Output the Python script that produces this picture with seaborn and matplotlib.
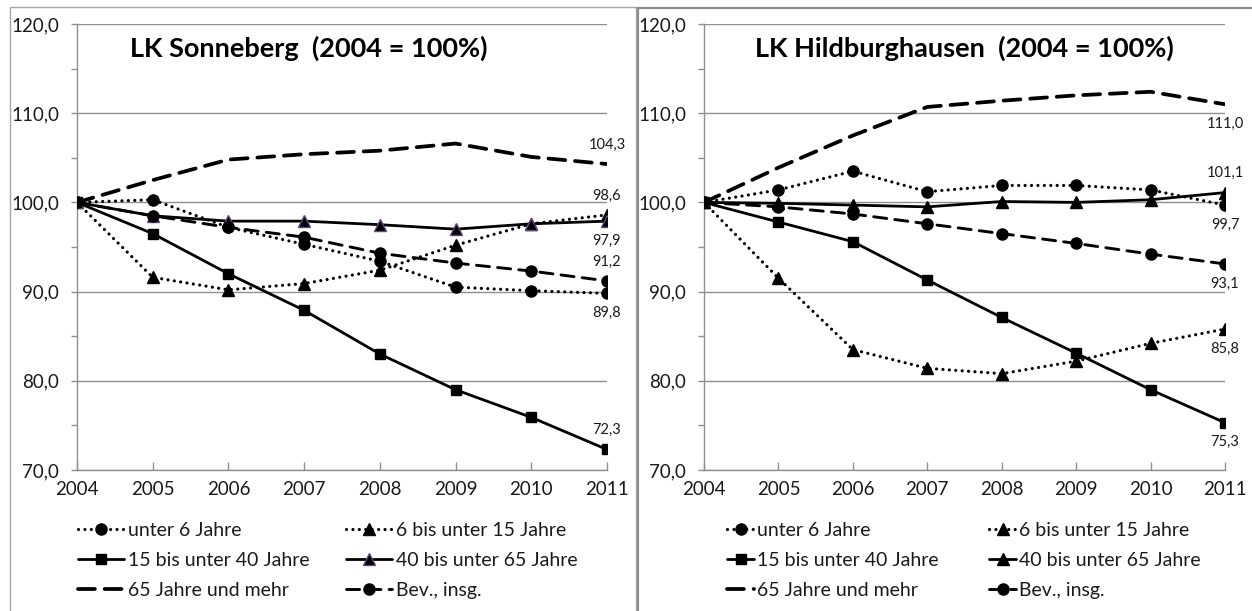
import matplotlib
matplotlib.use("Agg")
import matplotlib.pyplot as plt
import seaborn as sns
import pandas as pd
from matplotlib.patches import Rectangle
from matplotlib.ticker import MultipleLocator, FuncFormatter

# ---------------- data ----------------
years = [2004, 2005, 2006, 2007, 2008, 2009, 2010, 2011]
series_names = ["unter 6 Jahre", "6 bis unter 15 Jahre", "15 bis unter 40 Jahre",
                "40 bis unter 65 Jahre", "65 Jahre und mehr", "Bev., insg."]

son_u6 = [100.0, 100.3, 97.2, 95.3, 93.4, 90.5, 90.1, 89.8]
son_6_15 = [100.0, 91.6, 90.2, 90.9, 92.4, 95.2, 97.6, 98.6]
son_15_40 = [100.0, 96.5, 92.0, 87.9, 83.0, 79.0, 75.9, 72.3]
son_40_65 = [100.0, 98.5, 97.9, 97.9, 97.5, 97.0, 97.6, 97.9]
son_65 = [100.0, 102.5, 104.8, 105.4, 105.8, 106.6, 105.1, 104.3]
son_bev = [100.0, 98.5, 97.2, 96.1, 94.3, 93.2, 92.3, 91.2]

hil_u6 = [100.0, 101.4, 103.5, 101.2, 101.9, 101.9, 101.4, 99.7]
hil_6_15 = [100.0, 91.5, 83.5, 81.4, 80.8, 82.2, 84.2, 85.8]
hil_15_40 = [100.0, 97.8, 95.6, 91.3, 87.1, 83.1, 79.0, 75.3]
hil_40_65 = [100.0, 99.9, 99.7, 99.5, 100.1, 100.0, 100.3, 101.1]
hil_65 = [100.0, 103.9, 107.5, 110.7, 111.4, 112.0, 112.4, 111.0]
hil_bev = [100.0, 99.5, 98.7, 97.6, 96.5, 95.4, 94.2, 93.1]

titles = ["LK Sonneberg  (2004 = 100%)", "LK Hildburghausen  (2004 = 100%)"]
y_ticks = [70, 80, 90, 100, 110, 120]

# ---------------- style ----------------
sns.set_style("white")
plt.rcParams["font.family"] = ["Lato", "DejaVu Sans"]
TXT = "#1a1a1a"
GRID = "#8f8f8f"

dot = (0, (0.01, 2.0))
styles = {
    "unter 6 Jahre": dict(ls=dot, marker="o", ms=8, lw=2.3),
    "6 bis unter 15 Jahre": dict(ls=dot, marker="^", ms=9, lw=2.3),
    "15 bis unter 40 Jahre": dict(ls="-", marker="s", ms=7.5, lw=2.0),
    "40 bis unter 65 Jahre": dict(ls="-", marker="^", ms=9, lw=2.0),
    "65 Jahre und mehr": dict(ls=(0, (4.5, 2.6)), marker=None, ms=0, lw=2.7),
    "Bev., insg.": dict(ls=(0, (4.5, 2.8)), marker="o", ms=8, lw=2.1),
}

panels = [
    dict(data=[son_u6, son_6_15, son_15_40, son_40_65, son_65, son_bev],
         labels={"65 Jahre und mehr": "above", "6 bis unter 15 Jahre": "above",
                 "40 bis unter 65 Jahre": "below", "Bev., insg.": "above",
                 "unter 6 Jahre": "below", "15 bis unter 40 Jahre": "above"},
         tri_edge="#5f497a", colspace=1.9, hlen=2.35, hpad=0.2, lx=0.002),
    dict(data=[hil_u6, hil_6_15, hil_15_40, hil_40_65, hil_65, hil_bev],
         labels={"65 Jahre und mehr": "below", "40 bis unter 65 Jahre": "above",
                 "unter 6 Jahre": "below", "Bev., insg.": "below",
                 "6 bis unter 15 Jahre": "below", "15 bis unter 40 Jahre": "below"},
         tri_edge="black", colspace=2.6, hlen=1.4, hpad=0.15, lx=0.044),
]

W, H = 1252, 611
fig = plt.figure(figsize=(W / 100, H / 100), dpi=100)

# panel frames
fig.add_artist(Rectangle((10 / W, -0.02), (636 - 10) / W, 1 - 7 / H + 0.02,
                         transform=fig.transFigure, fill=False, ec="#a6a6a6", lw=1.0))
fig.add_artist(Rectangle((638 / W, -0.02), (1262 - 638) / W, 1 - 8 / H + 0.02,
                         transform=fig.transFigure, fill=False, ec="#8c8c8c", lw=1.6))

axes_px = [(77, 607), (704, 1225)]
top_px, bot_px = 24, 470
title_x = [130, 755]

for pi, (panel, (xl, xr)) in enumerate(zip(panels, axes_px)):
    ax = fig.add_axes([xl / W, 1 - bot_px / H, (xr - xl) / W, (bot_px - top_px) / H])
    ax.set_facecolor("white")
    for name, vals in zip(series_names, panel["data"]):
        st = styles[name]
        df = pd.DataFrame({"Jahr": years, "Wert": vals})
        edge = panel["tri_edge"] if name == "40 bis unter 65 Jahre" else "black"
        sns.lineplot(data=df, x="Jahr", y="Wert", ax=ax, color="black",
                     linestyle=st["ls"], linewidth=st["lw"], marker=st["marker"],
                     markersize=st["ms"], markeredgecolor=edge, markerfacecolor="black",
                     markeredgewidth=1.0, dash_capstyle="round", label=name,
                     legend=False, zorder=3)
        pos = panel["labels"][name]
        off = 14 if pos == "above" else -14
        ax.annotate(f"{vals[-1]:.1f}".replace(".", ","), xy=(years[-1], vals[-1]),
                    xytext=(0, off), textcoords="offset points", ha="center",
                    va="center", fontsize=10.5, color=TXT, zorder=4)

    ax.set_xlim(2004, 2011)
    ax.set_ylim(70, 120)
    ax.set_xticks(years)
    ax.set_yticks(y_ticks)
    ax.yaxis.set_minor_locator(MultipleLocator(5))
    ax.yaxis.set_major_formatter(FuncFormatter(lambda v, p: f"{v:.1f}".replace(".", ",")))
    ax.grid(axis="y", which="major", color=GRID, lw=1.0)
    ax.grid(axis="x", visible=False)
    ax.set_axisbelow(True)
    for s in ["top", "right"]:
        ax.spines[s].set_visible(False)
    for s in ["left", "bottom"]:
        ax.spines[s].set_color(GRID)
        ax.spines[s].set_linewidth(1.0)
    ax.tick_params(axis="y", which="major", direction="out", length=4, width=1,
                   color=GRID, labelsize=13.5, labelcolor=TXT, pad=9, left=True)
    ax.tick_params(axis="y", which="minor", direction="out", length=4, width=1,
                   color=GRID, left=True)
    ax.tick_params(axis="x", which="major", direction="in", length=6, width=1,
                   color=GRID, labelsize=13.5, labelcolor=TXT, pad=8, bottom=True)
    ax.set_xlabel("")
    ax.set_ylabel("")

    fig.text(title_x[pi] / W, 1 - 48 / H, titles[pi], fontsize=19.5, fontweight="bold",
             ha="left", va="center", color="black")

    handles, labs = ax.get_legend_handles_labels()
    order = [0, 2, 4, 1, 3, 5]
    ax.legend([handles[i] for i in order], [labs[i] for i in order], ncol=2,
              loc="upper left", bbox_to_anchor=(panel["lx"], -0.116), frameon=False,
              fontsize=14, handlelength=panel["hlen"], handletextpad=panel["hpad"],
              columnspacing=panel["colspace"],
              labelspacing=0.68, borderpad=0, borderaxespad=0, labelcolor=TXT)

fig.savefig("out.png", dpi=100)
